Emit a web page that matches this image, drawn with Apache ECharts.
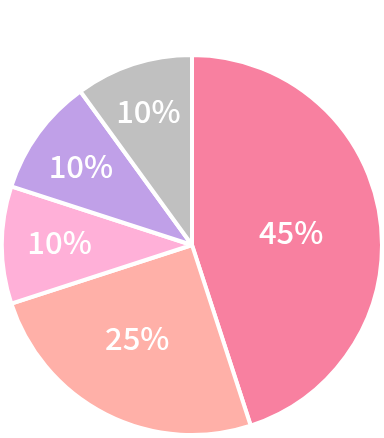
<!DOCTYPE html>
<html>
<head>
<meta charset="utf-8">
<script src="https://cdn.jsdelivr.net/npm/echarts@6/dist/echarts.min.js"></script>
<style>
html,body{margin:0;padding:0;background:#fff;}
#chart{width:384px;height:438px;}
</style>
</head>
<body>
<div id="chart"></div>
<script>
// Data
var categories = ['A', 'B', 'C', 'D', 'E'];
var values = [45, 25, 10, 10, 10];
var colors = ['#F880A0', '#FFB0A8', '#FFB0D8', '#C0A0E8', '#C0C0C0'];
// label placement: radial distance (px) and small angular nudge (deg)
var labelDist = [97, 105, 129.5, 133, 138];
var labelAngleShift = [-1.5, -3.5, -1, 0.8, 0];

var chart = echarts.init(document.getElementById('chart'), null, {renderer: 'canvas'});
var center = [192, 245];
var R = 190;

var series = [{
  type: 'pie',
  center: center,
  radius: [0, R],
  startAngle: 90,
  clockwise: true,
  silent: true,
  animation: false,
  label: {show: false},
  labelLine: {show: false},
  itemStyle: {borderColor: '#fff', borderWidth: 4},
  data: values.map(function (v, i) {
    return {value: v, name: categories[i], itemStyle: {color: colors[i]}};
  })
}];

values.forEach(function (_, i) {
  series.push({
    type: 'pie',
    center: center,
    radius: [labelDist[i], labelDist[i]],
    startAngle: 90 + labelAngleShift[i],
    clockwise: true,
    silent: true,
    animation: false,
    percentPrecision: 0,
    labelLine: {show: false},
    itemStyle: {color: 'rgba(0,0,0,0)', borderWidth: 0},
    emphasis: {disabled: true},
    label: {
      show: false,
      position: 'inside',
      formatter: '{d}%',
      color: '#fff',
      fontFamily: '"Noto Sans CJK JP", "Noto Sans", sans-serif',
      fontWeight: 500,
      fontSize: 31
    },
    data: values.map(function (v, j) {
      return {value: v, name: categories[j], label: {show: j === i}};
    })
  });
});

chart.setOption({
  backgroundColor: '#fff',
  animation: false,
  series: series
});
</script>
</body>
</html>
